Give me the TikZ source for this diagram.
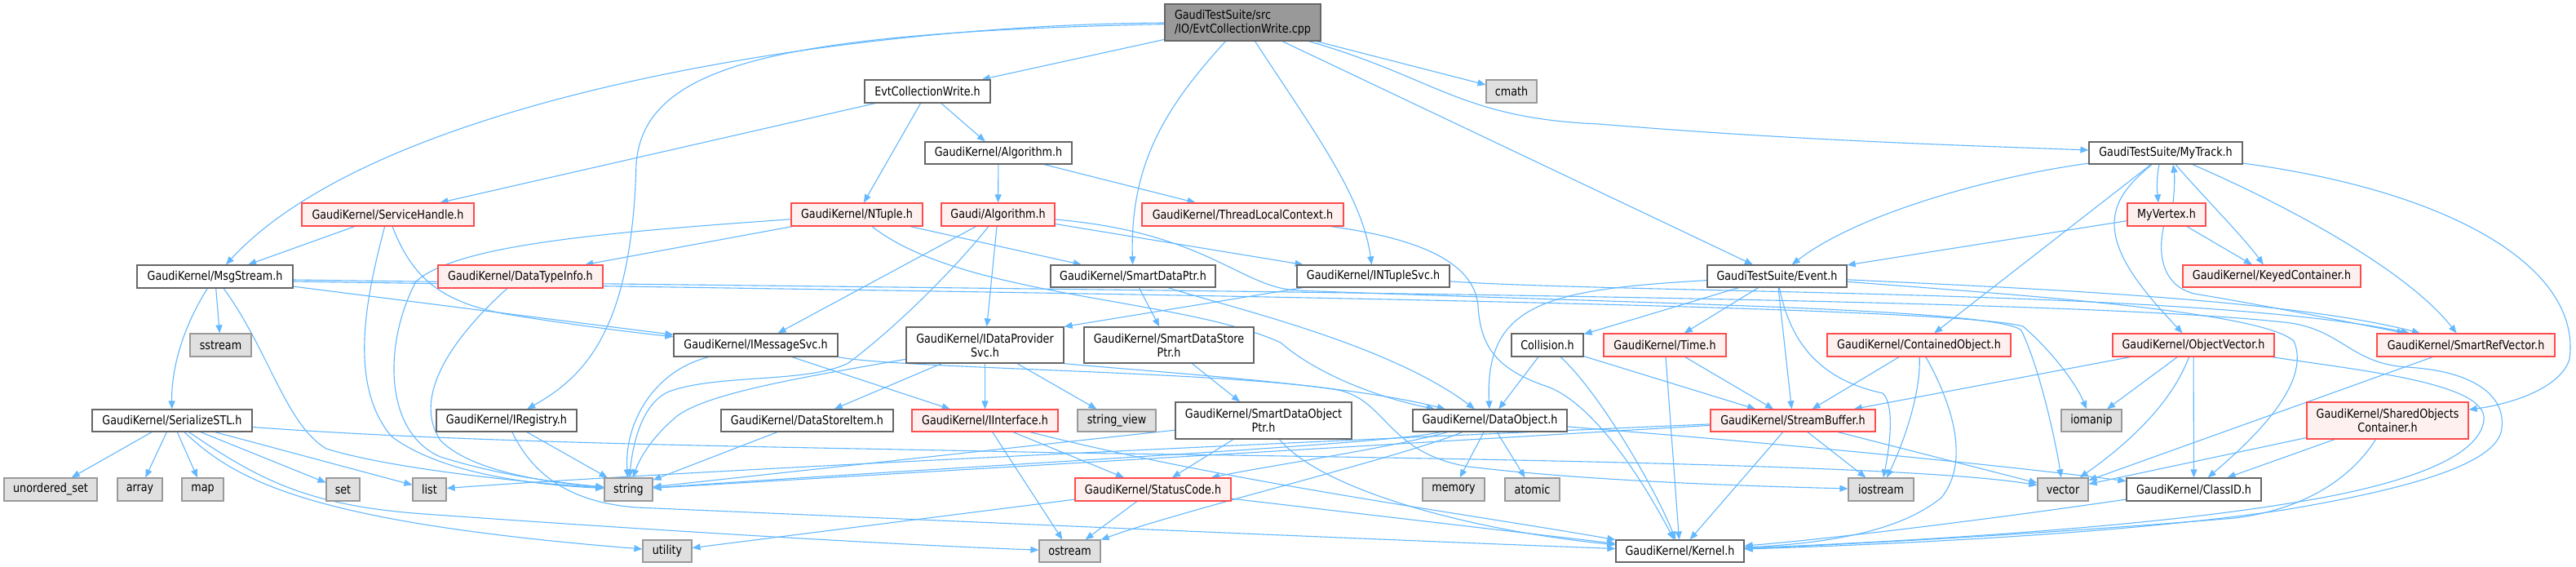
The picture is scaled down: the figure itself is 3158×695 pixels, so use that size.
\documentclass[tikz,border=0pt]{standalone}
\usepackage{fontspec}
\setmainfont{DejaVu Sans}[FakeStretch=0.85]
\usetikzlibrary{arrows.meta}
\pgfdeclarelayer{bg}
\pgfsetlayers{bg,main}
\definecolor{edgec}{HTML}{63B8FF}
\definecolor{redb}{HTML}{FF4C4C}
\definecolor{redf}{HTML}{FFF0F0}
\definecolor{grayf}{HTML}{E0E0E0}
\definecolor{grayb}{HTML}{999999}
\definecolor{whiteb}{HTML}{666666}
\definecolor{mainf}{HTML}{999999}
\tikzset{
  nb/.style={draw, line width=1.2pt, inner sep=0pt, align=center, text=black,
    font=\fontsize{15}{17}\selectfont},
  wbox/.style={nb, draw=whiteb, fill=white},
  rbox/.style={nb, draw=redb, fill=redf},
  gbox/.style={nb, draw=grayb, fill=grayf},
  mbox/.style={nb, draw=whiteb, fill=mainf, align=left},
  ln/.style={draw=edgec, line width=1.1pt, -{Triangle[length=10pt,width=8pt]}},
}
\newcommand\gnode[7]{\node[#1,minimum width=#5pt,minimum height=#6pt] (#2) at (#3,#4) {#7};}
\begin{document}
\begin{tikzpicture}[x=1pt,y=-1pt]
\useasboundingbox (0,0) rectangle (3158,695);
% nodes
\gnode{mbox}{m}{1523.5}{27.5}{191}{45}{GaudiTestSuite/src\\/IO/EvtCollectionWrite.cpp}
\gnode{wbox}{ecw}{1137}{112}{154}{28}{EvtCollectionWrite.h}
\gnode{gbox}{cmath}{1853}{112}{62}{28}{cmath}
\gnode{wbox}{gka}{1224}{187.5}{180}{27}{GaudiKernel/Algorithm.h}
\gnode{wbox}{trk}{2655}{187.5}{188}{27}{GaudiTestSuite/MyTrack.h}
\gnode{rbox}{sh}{475.5}{263}{211}{28}{GaudiKernel/ServiceHandle.h}
\gnode{rbox}{nt}{1050.5}{263}{161}{28}{GaudiKernel/NTuple.h}
\gnode{rbox}{galg}{1223.5}{263}{139}{28}{Gaudi/Algorithm.h}
\gnode{rbox}{tlc}{1523.5}{263}{247}{28}{GaudiKernel/ThreadLocalContext.h}
\gnode{rbox}{mv}{2656}{263}{96}{28}{MyVertex.h}
\gnode{wbox}{msg}{263.5}{339}{191}{28}{GaudiKernel/MsgStream.h}
\gnode{rbox}{dti}{638}{339}{202}{28}{GaudiKernel/DataTypeInfo.h}
\gnode{wbox}{sdp}{1389}{338.5}{202}{27}{GaudiKernel/SmartDataPtr.h}
\gnode{wbox}{intsvc}{1683.5}{338.5}{187}{27}{GaudiKernel/INTupleSvc.h}
\gnode{wbox}{ev}{2178.5}{338.5}{171}{27}{GaudiTestSuite/Event.h}
\gnode{rbox}{kc}{2785}{338.5}{218}{27}{GaudiKernel/KeyedContainer.h}
\gnode{gbox}{sstream}{270.5}{423}{75}{28}{sstream}
\gnode{wbox}{ims}{926.5}{423}{201}{28}{GaudiKernel/IMessageSvc.h}
\gnode{wbox}{idps}{1207.5}{423}{193}{44}{GaudiKernel/IDataProvider\\Svc.h}
\gnode{wbox}{sdsp}{1433}{423}{208}{44}{GaudiKernel/SmartDataStore\\Ptr.h}
\gnode{wbox}{col}{1897}{423}{88}{28}{Collision.h}
\gnode{rbox}{time}{2041}{423}{150}{28}{GaudiKernel/Time.h}
\gnode{rbox}{co}{2352.5}{423}{225}{28}{GaudiKernel/ContainedObject.h}
\gnode{rbox}{ov}{2689}{423}{198}{28}{GaudiKernel/ObjectVector.h}
\gnode{rbox}{srv}{3023}{423}{218}{28}{GaudiKernel/SmartRefVector.h}
\gnode{wbox}{sstl}{211}{515.5}{196}{27}{GaudiKernel/SerializeSTL.h}
\gnode{wbox}{ireg}{621}{515.5}{172}{27}{GaudiKernel/IRegistry.h}
\gnode{wbox}{dsi}{989.5}{515.5}{211}{27}{GaudiKernel/DataStoreItem.h}
\gnode{rbox}{ii}{1207.5}{515.5}{179}{27}{GaudiKernel/IInterface.h}
\gnode{gbox}{sv}{1369}{515.5}{96}{27}{string\_view}
\gnode{wbox}{sdop}{1549}{515.5}{216}{45}{GaudiKernel/SmartDataObject\\Ptr.h}
\gnode{wbox}{dobj}{1826.5}{515.5}{189}{27}{GaudiKernel/DataObject.h}
\gnode{rbox}{sbuf}{2198}{515.5}{202}{27}{GaudiKernel/StreamBuffer.h}
\gnode{gbox}{iomanip}{2564}{515.5}{74}{27}{iomanip}
\gnode{rbox}{soc}{2927}{515.5}{198}{45}{GaudiKernel/SharedObjects\\Container.h}
\gnode{gbox}{uset}{62}{600}{114}{28}{unordered\_set}
\gnode{gbox}{array}{171.5}{600}{55}{28}{array}
\gnode{gbox}{map}{248.5}{600}{51}{28}{map}
\gnode{gbox}{set}{420.5}{600}{41}{28}{set}
\gnode{gbox}{list}{526.5}{600}{41}{28}{list}
\gnode{gbox}{string}{770.5}{600}{59}{28}{string}
\gnode{rbox}{sc}{1413.5}{600}{191}{28}{GaudiKernel/StatusCode.h}
\gnode{gbox}{memory}{1782}{600}{76}{28}{memory}
\gnode{gbox}{atomic}{1878.5}{600}{67}{28}{atomic}
\gnode{gbox}{iostream}{2306}{600}{80}{28}{iostream}
\gnode{gbox}{vector}{2529}{600}{62}{28}{vector}
\gnode{wbox}{cid}{2689.5}{600}{165}{28}{GaudiKernel/ClassID.h}
\gnode{gbox}{utility}{818}{675.5}{60}{27}{utility}
\gnode{gbox}{ostream}{1311.5}{675.5}{75}{27}{ostream}
\gnode{wbox}{kernel}{2059.5}{675.5}{157}{27}{GaudiKernel/Kernel.h}
\begin{pgfonlayer}{bg}
\fill[white] (0,0) rectangle (3158,695);
% main file
\draw[ln] (m) .. controls (1050,30) and (470,115) .. (msg);
\draw[ln] (m) .. controls (950,40) and (790,80) .. (780,200) .. controls (775,400) and (720,460) .. (ireg);
\draw[ln] (m) -- (ecw);
\draw[ln] (m) .. controls (1430,130) and (1385,200) .. (sdp);
\draw[ln] (m) .. controls (1610,160) and (1670,240) .. (intsvc);
\draw[ln] (m) -- (ev);
\draw[ln] (m) -- (cmath);
\draw[ln] (m) .. controls (1760,95) and (1790,145) .. (1960,152) .. controls (2200,172) and (2400,178) .. (trk);
% EvtCollectionWrite.h
\draw[ln] (ecw) -- (sh);
\draw[ln] (ecw) -- (nt);
\draw[ln] (ecw) -- (gka);
\draw[ln] (gka) -- (galg);
\draw[ln] (gka) -- (tlc);
% ServiceHandle
\draw[ln] (sh) -- (msg);
\draw[ln] (sh) .. controls (450,360) and (425,470) .. (480,535) .. controls (540,580) and (650,594) .. (string);
\draw[ln] (sh) .. controls (505,340) and (540,370) .. (620,385) .. controls (700,398) and (780,408) .. (ims);
% NTuple
\draw[ln] (nt) -- (dti);
\draw[ln] (nt) .. controls (740,285) and (560,300) .. (510,345) .. controls (470,420) and (470,530) .. (540,560) .. controls (620,585) and (690,592) .. (string);
\draw[ln] (nt) -- (sdp);
\draw[ln] (nt) .. controls (1180,365) and (1450,365) .. (1570,420) .. controls (1610,455) and (1680,485) .. (dobj);
% Gaudi/Algorithm
\draw[ln] (galg) -- (ims);
\draw[ln] (galg) .. controls (1170,330) and (1100,400) .. (1040,445) .. controls (990,470) and (880,458) .. (820,480) .. controls (785,495) and (775,550) .. (string);
\draw[ln] (galg) -- (idps);
\draw[ln] (galg) -- (intsvc);
\draw[ln] (galg) .. controls (1480,285) and (1520,352) .. (1590,356) .. controls (2000,372) and (2450,378) .. (2478,405) .. controls (2500,450) and (2520,540) .. (vector);
% ThreadLocalContext
\draw[ln] (tlc) .. controls (1760,295) and (1808,330) .. (1812,375) .. controls (1815,430) and (1840,455) .. (1900,475) .. controls (1960,500) and (2020,600) .. (kernel);
% MsgStream
\draw[ln] (msg) -- (ims);
\draw[ln] (msg) .. controls (225,400) and (210,450) .. (sstl);
\draw[ln] (msg) -- (sstream);
\draw[ln] (msg) .. controls (330,430) and (350,520) .. (400,550) .. controls (480,575) and (650,592) .. (string);
\draw[ln] ([yshift=-6pt]msg.east) .. controls (1200,358) and (2380,372) .. (2480,400) .. controls (2515,430) and (2545,470) .. (iomanip);
\draw[ln] ([yshift=-4pt]msg.east) .. controls (1300,356) and (2500,362) .. (2800,395) .. controls (2870,402) and (2880,445) .. (2950,450) .. controls (3040,455) and (3075,490) .. (3066,530) .. controls (3055,570) and (2950,600) .. (2800,625) .. controls (2600,655) and (2300,668) .. (kernel);
% SerializeSTL
\draw[ln] (sstl) -- (uset);
\draw[ln] (sstl) -- (array);
\draw[ln] (sstl) -- (map);
\draw[ln] (sstl) -- (set);
\draw[ln] (sstl) -- (list);
\draw[ln] (sstl) .. controls (290,590) and (380,640) .. (utility);
\draw[ln] (sstl) .. controls (320,590) and (380,620) .. (520,630) .. controls (800,650) and (1100,668) .. (ostream);
\draw[ln] ([yshift=-8pt]sstl.east) .. controls (600,545) and (1000,548) .. (1300,555) .. controls (1800,562) and (2350,570) .. (vector);
% IRegistry, DataTypeInfo
\draw[ln] (ireg) -- (string);
\draw[ln] (ireg) .. controls (650,575) and (690,615) .. (780,622) .. controls (1200,640) and (1700,662) .. (kernel);
\draw[ln] (dti) .. controls (570,400) and (500,480) .. (540,540) .. controls (580,580) and (680,592) .. (string);
% IMessageSvc
\draw[ln] (ims) .. controls (800,455) and (765,520) .. (string);
\draw[ln] (ims) -- (ii);
\draw[ln] (ims.south east) .. controls (1100,452) and (1500,455) .. (1640,478) .. controls (1700,490) and (1700,555) .. (1800,572) .. controls (1950,590) and (2150,596) .. (iostream);
% IDataProviderSvc
\draw[ln] (idps) -- (dsi);
\draw[ln] (idps) -- (ii);
\draw[ln] (idps) -- (sv);
\draw[ln] (idps) .. controls (1000,460) and (870,480) .. (830,510) .. controls (800,535) and (785,560) .. (string);
\draw[ln] (idps.south east) .. controls (1400,455) and (1650,470) .. (dobj);
% SmartDataPtr, INTupleSvc
\draw[ln] (sdp) -- (sdsp);
\draw[ln] (sdp) .. controls (1500,375) and (1700,420) .. (dobj);
\draw[ln] (intsvc) -- (idps.north east);
\draw[ln] (intsvc) .. controls (2000,360) and (2700,355) .. (srv);
\draw[ln] (sdsp) -- (sdop);
% SmartDataObjectPtr
\draw[ln] (sdop) -- (string);
\draw[ln] (sdop) -- (sc);
\draw[ln] (sdop) .. controls (1620,600) and (1800,650) .. (kernel);
% DataStoreItem, IInterface, StatusCode
\draw[ln] (dsi) -- (string);
\draw[ln] (ii) -- (ostream);
\draw[ln] (ii) -- (sc);
\draw[ln] (ii) .. controls (1500,590) and (1800,630) .. (kernel);
\draw[ln] (sc) -- (utility);
\draw[ln] (sc) -- (ostream);
\draw[ln] (sc) -- (kernel);
% DataObject
\draw[ln] (dobj) -- (memory);
\draw[ln] (dobj) -- (atomic);
\draw[ln] (dobj) .. controls (2200,545) and (2450,570) .. (cid);
\draw[ln] (dobj) .. controls (1700,545) and (1200,570) .. (string);
\draw[ln] (dobj) .. controls (1700,550) and (1560,570) .. (sc);
\draw[ln] (dobj) .. controls (1720,560) and (1450,625) .. (ostream);
% Collision, Time
\draw[ln] (col) -- (dobj);
\draw[ln] (col) -- (sbuf);
\draw[ln] (col) .. controls (1960,480) and (2030,600) .. (kernel);
\draw[ln] (time) -- (kernel);
\draw[ln] (time) -- (sbuf);
% StreamBuffer
\draw[ln] (sbuf) -- (kernel);
\draw[ln] (sbuf) -- (iostream);
\draw[ln] (sbuf) -- (vector);
\draw[ln] (sbuf) -- (string);
\draw[ln] (sbuf) .. controls (1400,550) and (800,580) .. (list);
% ContainedObject
\draw[ln] (co) -- (sbuf);
\draw[ln] (co) .. controls (2355,480) and (2335,540) .. (iostream);
\draw[ln] (co) .. controls (2385,480) and (2420,560) .. (2380,610) .. controls (2330,650) and (2250,665) .. (kernel);
% ObjectVector
\draw[ln] (ov) -- (sbuf);
\draw[ln] (ov) -- (iomanip);
\draw[ln] (ov) .. controls (2660,500) and (2600,550) .. (vector);
\draw[ln] (ov) -- (cid);
\draw[ln] (ov) .. controls (2900,455) and (3050,470) .. (3045,515) .. controls (3040,560) and (2950,595) .. (2800,618) .. controls (2600,650) and (2300,665) .. (kernel);
% SmartRefVector, SharedObjectsContainer, ClassID
\draw[ln] (srv) -- (vector);
\draw[ln] (soc) -- (vector);
\draw[ln] (soc) -- (cid);
\draw[ln] (soc) .. controls (2880,590) and (2820,625) .. (2740,635) .. controls (2500,655) and (2250,668) .. (kernel);
\draw[ln] (cid) .. controls (2450,635) and (2250,660) .. (kernel);
% Event
\draw[ln] (ev) .. controls (1900,355) and (1820,370) .. (dobj);
\draw[ln] (ev) -- (col);
\draw[ln] (ev) -- (time);
\draw[ln] (ev) -- (sbuf);
\draw[ln] (ev) .. controls (2195,420) and (2230,465) .. (2308,482) .. controls (2322,495) and (2318,540) .. (iostream);
\draw[ln] (ev) .. controls (2450,352) and (2800,365) .. (srv);
\draw[ln] (ev) .. controls (2450,360) and (2770,380) .. (2812,418) .. controls (2835,470) and (2760,540) .. (cid);
% MyTrack
\draw[ln] (trk) .. controls (2450,215) and (2280,260) .. (ev);
\draw[ln] (trk) -- (co);
\draw[ln] (trk) .. controls (2610,225) and (2592,245) .. (2592,275) .. controls (2592,320) and (2640,370) .. (ov);
\draw[ln] ([xshift=-8pt]trk.south) .. controls (2644,215) and (2644,230) .. ([xshift=-10pt]mv.north);
\draw[ln] (trk) .. controls (2700,240) and (2750,290) .. (kc);
\draw[ln] (trk) .. controls (2800,250) and (2950,330) .. (srv);
\draw[ln] (trk) .. controls (3010,235) and (3165,330) .. (3150,440) .. controls (3140,475) and (3080,495) .. (soc);
% MyVertex
\draw[ln] ([xshift=8pt]mv.north) .. controls (2666,230) and (2666,215) .. ([xshift=9pt]trk.south);
\draw[ln] (mv) -- (kc);
\draw[ln] (mv) .. controls (2645,310) and (2650,350) .. (2690,360) .. controls (2780,375) and (2880,395) .. (srv);
\draw[ln] (mv) -- (ev);
\end{pgfonlayer}
\end{tikzpicture}
\end{document}
